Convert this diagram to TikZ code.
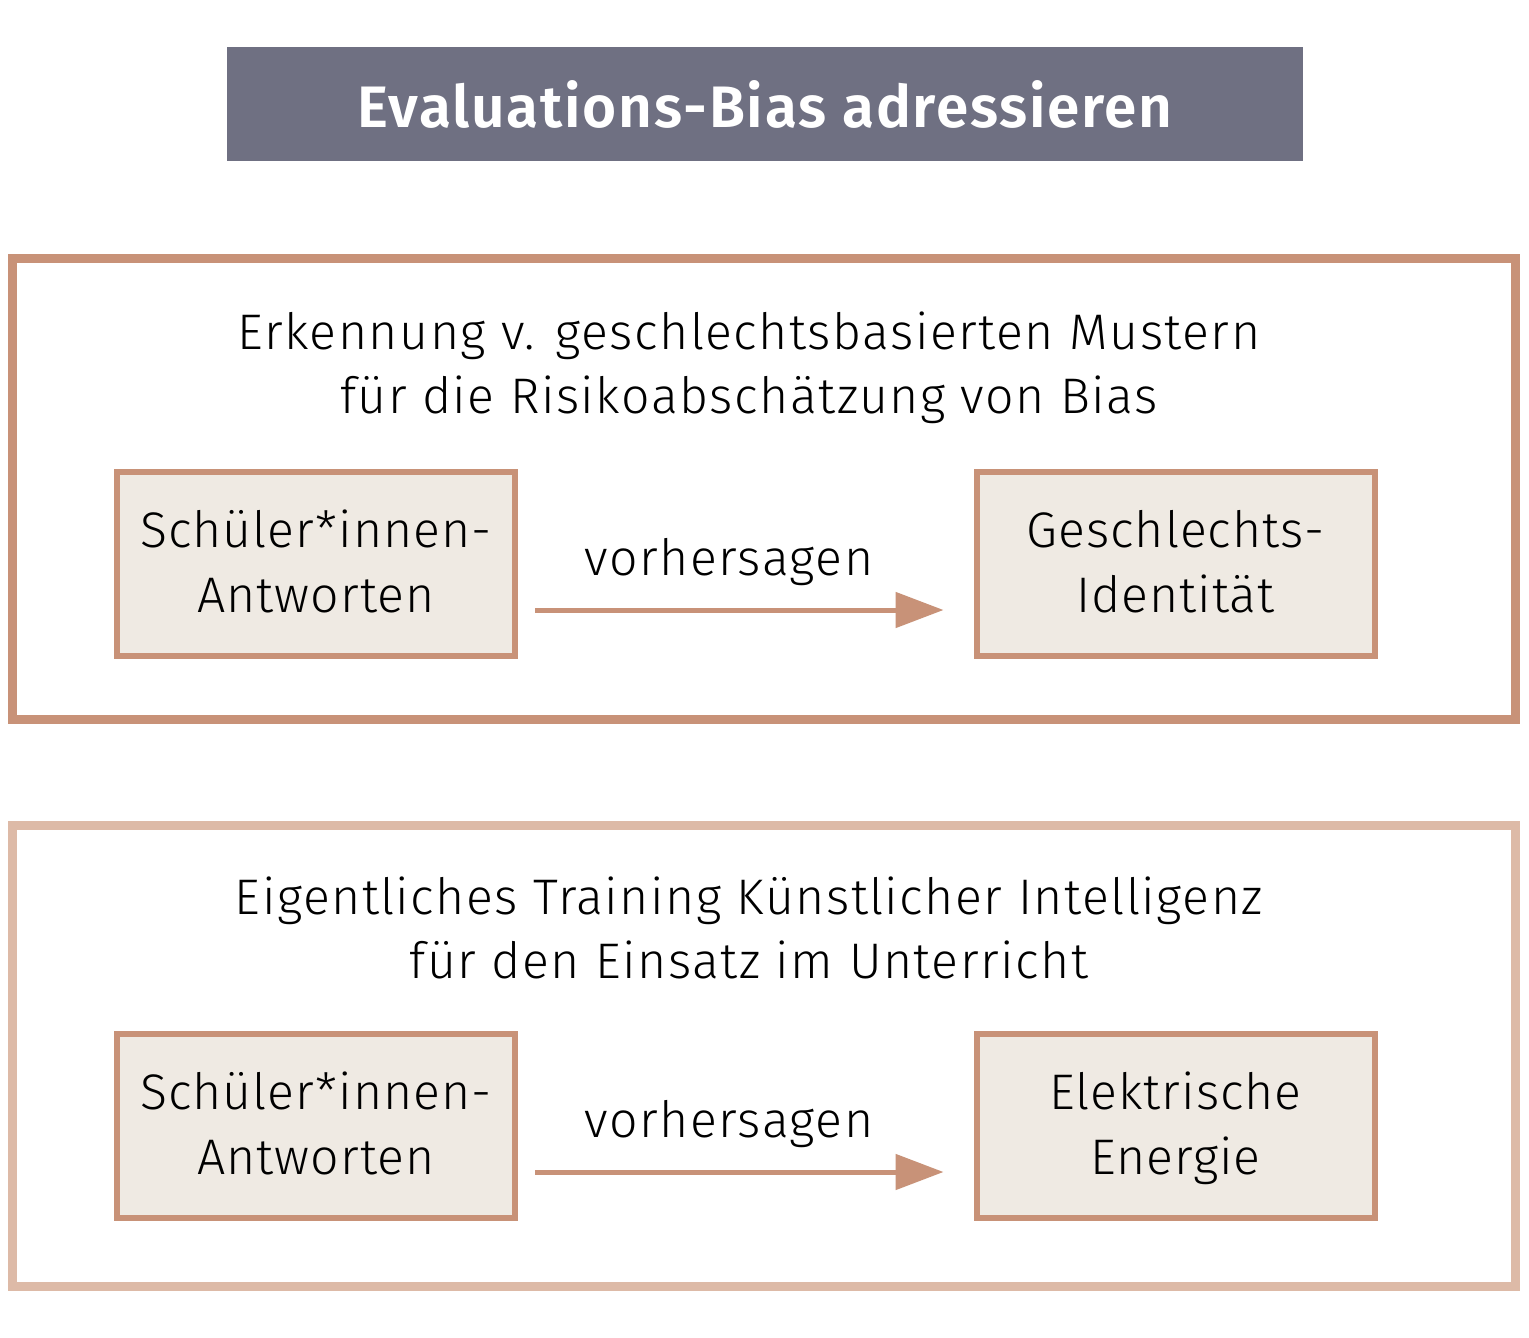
\documentclass[tikz,border=0pt]{standalone}
\usepackage{fontspec}
\setmainfont{Fira Sans}[UprightFont=* Light, BoldFont=* SemiBold, LetterSpace=3]
\usetikzlibrary{arrows.meta}
\definecolor{titlebg}{RGB}{111,112,130}
\definecolor{frameA}{RGB}{200,146,120}
\definecolor{frameB}{RGB}{221,186,167}
\definecolor{boxfill}{RGB}{239,234,227}
\newcommand{\botstrut}{\rule[-13pt]{0pt}{13pt}}
\tikzset{
  titlebox/.style={fill=titlebg, text=white, minimum width=1076pt, minimum height=114pt, inner sep=0pt,
    font=\fontsize{58.5}{70}\selectfont\bfseries},
  frame/.style={line width=9pt, minimum width=1503pt, minimum height=461pt, inner sep=0pt},
  heading/.style={align=center, inner sep=0pt, font=\fontsize{50}{64}\selectfont},
  itembox/.style={draw=frameA, fill=boxfill, line width=6pt, minimum width=398pt, minimum height=184pt,
    align=center, inner sep=0pt, font=\fontsize{50}{65}\selectfont\addfontfeatures{LetterSpace=2}},
  relarrow/.style={draw=frameA, line width=5pt, -{Triangle[length=48pt,width=35pt]},
    shorten <=17pt, shorten >=30pt},
  rellabel/.style={inner sep=0pt, anchor=base, font=\fontsize{50}{60}\selectfont}
}
\begin{document}
\begin{tikzpicture}[x=1pt,y=-1pt]
\useasboundingbox (0,0) rectangle (1529,1338);
\fill[white] (0,0) rectangle (1529,1338);
\node[titlebox] (title) at (765,104) {Evaluations-Bias adressieren};
% first frame
\node[frame, draw=frameA] (frame1) at (764,489) {};
\node[heading] (head1) at (749,369) {\strut Erkennung v. geschlechtsbasierten Mustern\\\strut für die Risikoabschätzung von Bias};
\node[itembox] (src1) at (316,564) {\strut Schüler*innen-\\Antworten\botstrut};
\node[itembox] (tgt1) at (1175.5,564) {\strut Geschlechts-\\Identität\botstrut};
\draw[relarrow] (src1.east |- 0,610) -- (tgt1.west |- 0,610);
\node[rellabel] (lab1) at (729,575) {vorhersagen};
% second frame
\node[frame, draw=frameB] (frame2) at (764,1056) {};
\node[heading] (head2) at (749,934) {\strut Eigentliches Training Künstlicher Intelligenz\\\strut für den Einsatz im Unterricht};
\node[itembox] (src2) at (316,1126) {\strut Schüler*innen-\\Antworten\botstrut};
\node[itembox] (tgt2) at (1175.5,1126) {\strut Elektrische\\Energie\botstrut};
\draw[relarrow] (src2.east |- 0,1172) -- (tgt2.west |- 0,1172);
\node[rellabel] (lab2) at (729,1137) {vorhersagen};
\end{tikzpicture}
\end{document}
